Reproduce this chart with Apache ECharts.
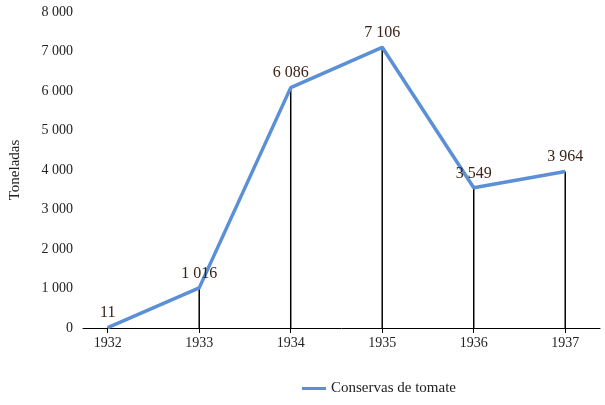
<!DOCTYPE html>
<html>
<head>
<meta charset="utf-8">
<script src="https://cdn.jsdelivr.net/npm/echarts@6/dist/echarts.min.js"></script>
<style>html,body{margin:0;padding:0;background:#fff}#chart{width:605px;height:405px}</style>
</head>
<body>
<div id="chart"></div>
<script>
var years = [1932, 1933, 1934, 1935, 1936, 1937];
var tomate = [11, 1016, 6086, 7106, 3549, 3964];
var yTicks = [0, 1000, 2000, 3000, 4000, 5000, 6000, 7000, 8000];

function fmt(v) {
    return String(v).replace(/\B(?=(\d{3})+(?!\d))/g, ' ');
}

var myChart = echarts.init(document.getElementById('chart'));
var pts = years.map(function (y, i) { return [y, tomate[i]]; });

var option = {
    textStyle: { fontFamily: 'Liberation Serif', color: '#222' },
    animation: false,
    grid: { left: 78, right: 5, top: 12, bottom: 77 },
    legend: {
        bottom: 4,
        left: 297,
        data: ['Conservas de tomate'],
        icon: 'rect',
        itemWidth: 24,
        itemHeight: 3,
        textStyle: { fontFamily: 'Liberation Serif', fontSize: 15, color: '#222' }
    },
    xAxis: {
        type: 'value',
        min: 1931.73,
        max: 1937.38,
        splitLine: { show: false },
        axisLine: { lineStyle: { color: '#000', width: 1 } },
        axisTick: { show: true, customValues: years, length: 5, lineStyle: { color: '#000' } },
        axisLabel: { customValues: years, fontSize: 14, color: '#222', margin: 8, formatter: function (v) { return String(v); } }
    },
    yAxis: {
        type: 'value',
        min: 0,
        max: 8000,
        interval: 1000,
        name: 'Toneladas',
        nameLocation: 'middle',
        nameGap: 60,
        nameTextStyle: { fontSize: 15, color: '#222' },
        splitLine: { show: false },
        axisLine: { show: false },
        axisTick: { show: false },
        axisLabel: { fontSize: 14, color: '#222', margin: 10, formatter: function (v) { return yTicks.indexOf(v) >= 0 ? fmt(v) : ''; } }
    },
    series: [{
        name: 'drop',
        type: 'bar',
        data: pts,
        barWidth: 1.5,
        itemStyle: { color: '#000' },
        silent: true,
        z: 1
    }, {
        name: 'Conservas de tomate',
        type: 'line',
        data: pts,
        symbol: 'circle',
        symbolSize: 1,
        showSymbol: true,
        lineStyle: { color: '#5b8fd6', width: 3.5 },
        itemStyle: { color: '#5b8fd6' },
        z: 3,
        labelLayout: { hideOverlap: false },
        label: {
            show: true,
            position: 'top',
            distance: 6,
            fontSize: 16,
            color: '#3a2418',
            formatter: function (p) { return fmt(p.value[1]); }
        }
    }]
};
myChart.setOption(option);
</script>
</body>
</html>
